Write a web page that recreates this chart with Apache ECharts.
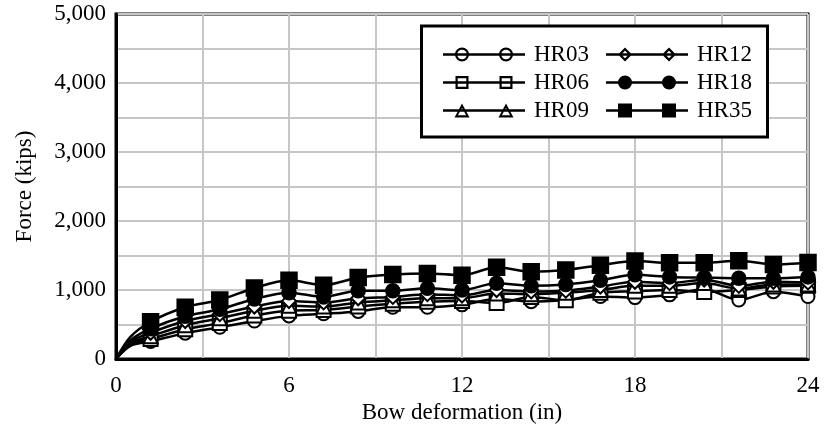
<!DOCTYPE html>
<html>
<head>
<meta charset="utf-8">
<script src="https://cdn.jsdelivr.net/npm/echarts@6/dist/echarts.min.js"></script>
<style>
html,body{margin:0;padding:0;background:#fff;}
#chart{width:824px;height:435px;}
</style>
</head>
<body>
<div id="chart"></div>
<script>
// Bow deformation (in) sample points; markers drawn at multiples of 1.2 in
const xValues = [0, 0.5, 1.2, 2.4, 3.6, 4.8, 6.0, 7.2, 8.4, 9.6, 10.8, 12.0, 13.2, 14.4, 15.6, 16.8, 18.0, 19.2, 20.4, 21.6, 22.8, 24.0];
const hr03 = [0, 190, 255, 375, 460, 550, 625, 655, 690, 750, 750, 785, 870, 830, 855, 905, 890, 930, 1010, 855, 975, 905];
const hr06 = [0, 210, 290, 430, 520, 630, 700, 710, 760, 800, 830, 840, 810, 900, 850, 960, 980, 1000, 970, 1000, 1050, 1060];
const hr09 = [0, 230, 330, 490, 590, 700, 770, 760, 820, 850, 880, 880, 950, 940, 960, 1000, 1060, 1060, 1100, 1020, 1080, 1080];
const hr12 = [0, 250, 380, 550, 650, 760, 840, 820, 880, 900, 940, 920, 1000, 980, 990, 1050, 1120, 1100, 1150, 1060, 1120, 1110];
const hr18 = [0, 270, 440, 620, 720, 870, 960, 900, 990, 990, 1025, 1000, 1097, 1060, 1080, 1140, 1220, 1190, 1180, 1170, 1170, 1190];
const hr35 = [0, 320, 540, 750, 855, 1030, 1140, 1070, 1180, 1225, 1240, 1215, 1330, 1265, 1290, 1360, 1420, 1395, 1395, 1425, 1370, 1400];

const seriesNames = ['HR03', 'HR06', 'HR09', 'HR12', 'HR18', 'HR35'];
const seriesValues = [hr03, hr06, hr09, hr12, hr18, hr35];
const xTickLabels = [0, 6, 12, 18, 24];
const yTickLabels = [0, 1000, 2000, 3000, 4000, 5000];

const symbols = ['emptyCircle', 'emptyRect', 'emptyTriangle', 'emptyDiamond', 'circle', 'rect'];
const symbolSizes = [13, 14, 14, 14, 13, 15];

const FONT = "'Liberation Serif', 'Times New Roman', serif";

// legend icon paths (line with two markers), 82 x 14
const LINE = 'M0 5.8H82V8.2H0Z';
const mx = [19, 63];
function ringCircle(cx) {
  const R = 7, r = 4.8, cy = 7;
  return `M${cx-R} ${cy}A${R} ${R} 0 1 1 ${cx+R} ${cy}A${R} ${R} 0 1 1 ${cx-R} ${cy}Z` +
         `M${cx-r} ${cy}A${r} ${r} 0 1 0 ${cx+r} ${cy}A${r} ${r} 0 1 0 ${cx-r} ${cy}Z`;
}
function fullCircle(cx) {
  const R = 7, cy = 7;
  return `M${cx-R} ${cy}A${R} ${R} 0 1 1 ${cx+R} ${cy}A${R} ${R} 0 1 1 ${cx-R} ${cy}Z`;
}
function ringRect(cx) {
  const a = 6.5, b = 4.3;
  return `M${cx-a} ${7-a}H${cx+a}V${7+a}H${cx-a}Z` +
         `M${cx-b} ${7-b}V${7+b}H${cx+b}V${7-b}Z`;
}
function fullRect(cx) {
  const a = 7;
  return `M${cx-a} ${7-a}H${cx+a}V${7+a}H${cx-a}Z`;
}
function ringTri(cx) {
  return `M${cx} 0L${cx+7.5} 14H${cx-7.5}Z` +
         `M${cx} 4.6L${cx-4.1} 11.8H${cx+4.1}Z`;
}
function ringDiamond(cx) {
  return `M${cx} 0L${cx+7} 7L${cx} 14L${cx-7} 7Z` +
         `M${cx} 3.2L${cx-3.8} 7L${cx} 10.8L${cx+3.8} 7Z`;
}
const iconFns = [ringCircle, ringRect, ringTri, ringDiamond, fullCircle, fullRect];
function iconPath(i) {
  return 'path://' + LINE + iconFns[i](mx[0]) + iconFns[i](mx[1]);
}

function buildData(vals) {
  return xValues.map((x, k) => {
    const isMarker = x > 0 && Math.abs(x / 1.2 - Math.round(x / 1.2)) < 1e-6;
    const item = { value: [x, vals[k]] };
    if (!isMarker) item.symbol = 'none';
    return item;
  });
}

const series = seriesNames.map((name, i) => ({
  name: name,
  type: 'line',
  data: buildData(seriesValues[i]),
  smooth: 0.3,
  symbol: symbols[i],
  symbolSize: symbolSizes[i],
  showAllSymbol: true,
  lineStyle: { color: '#000', width: 2.5 },
  itemStyle: { color: '#000', borderColor: '#000', borderWidth: 2.5 },
  z: 3 + i,
  animation: false
}));

const legendCommon = {
  orient: 'vertical',
  itemWidth: 82,
  itemHeight: 14,
  itemGap: 5,
  top: 38,
  z: 10,
  selectedMode: false,
  itemStyle: { borderWidth: 0, color: '#000' },
  textStyle: { fontFamily: FONT, fontSize: 23, color: '#000', lineHeight: 23, padding: [0, 0, 0, 4] }
};

const option = {
  backgroundColor: '#fff',
  animation: false,
  grid: {
    left: 116, right: 16, top: 14, bottom: 76,
    show: true, borderColor: '#000', borderWidth: 3, backgroundColor: 'transparent'
  },
  xAxis: {
    type: 'value', min: 0, max: 24, interval: 3,
    name: 'Bow deformation (in)', nameLocation: 'middle', nameGap: 40,
    nameTextStyle: { fontFamily: FONT, fontSize: 23, color: '#000' },
    axisLine: { show: true, lineStyle: { color: '#000', width: 3 } },
    axisTick: { show: false },
    axisLabel: {
      fontFamily: FONT, fontSize: 23, color: '#000', margin: 15,
      formatter: v => xTickLabels.indexOf(v) >= 0 ? String(v) : ''
    },
    splitLine: { show: true, lineStyle: { color: '#c6c6c6', width: 2 } }
  },
  yAxis: {
    type: 'value', min: 0, max: 5000, interval: 500,
    name: 'Force (kips)', nameLocation: 'middle', nameGap: 80, nameRotate: 90,
    nameTextStyle: { fontFamily: FONT, fontSize: 23, color: '#000' },
    axisLine: { show: true, lineStyle: { color: '#000', width: 3 } },
    axisTick: { show: false },
    axisLabel: {
      fontFamily: FONT, fontSize: 23, color: '#000', margin: 10,
      formatter: v => yTickLabels.indexOf(v) >= 0 ? v.toLocaleString('en-US') : ''
    },
    splitLine: { show: true, lineStyle: { color: '#c6c6c6', width: 2 } }
  },
  graphic: [{
    type: 'rect', z: 9,
    shape: { x: 421.5, y: 26, width: 346, height: 111 },
    style: { fill: '#fff', stroke: '#000', lineWidth: 3 }
  }],
  legend: [
    Object.assign({}, legendCommon, {
      left: 438,
      data: [0, 1, 2].map(i => ({ name: seriesNames[i], icon: iconPath(i) }))
    }),
    Object.assign({}, legendCommon, {
      left: 601,
      data: [3, 4, 5].map(i => ({ name: seriesNames[i], icon: iconPath(i) }))
    })
  ],
  series: series
};

const chart = echarts.init(document.getElementById('chart'), null, { renderer: 'canvas' });
chart.setOption(option);
</script>
</body>
</html>
